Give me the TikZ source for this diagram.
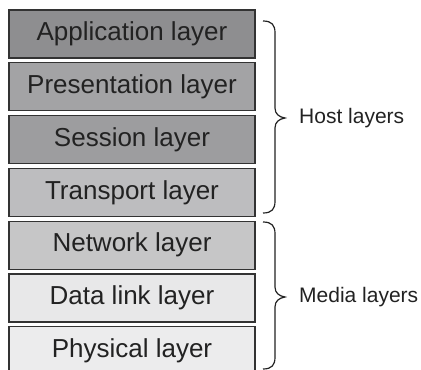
\documentclass[tikz,border=0pt]{standalone}
\usepackage{fontspec}
\setmainfont{Liberation Sans}
\definecolor{edge}{HTML}{333333}
\definecolor{txt}{HTML}{222222}
\definecolor{cA}{HTML}{8E8E90}
\definecolor{cB}{HTML}{A3A3A5}
\definecolor{cC}{HTML}{9D9D9F}
\definecolor{cD}{HTML}{BDBDBF}
\definecolor{cE}{HTML}{C6C6C7}
\definecolor{cF}{HTML}{E8E8E9}
\definecolor{cG}{HTML}{ECECED}
\tikzset{
  layerbox/.style={draw=edge, line width=1.3pt, minimum width=246pt, minimum height=48pt,
    inner sep=0pt, text=txt, font=\fontsize{26}{30}\selectfont},
  grouplabel/.style={anchor=west, inner sep=0pt, text=txt, font=\fontsize{21}{25}\selectfont},
  bracestyle/.style={draw=txt, line width=1.2pt}
}
\begin{document}
\begin{tikzpicture}[x=1pt,y=-1pt]
\useasboundingbox (0,0) rectangle (421,370);
\begin{scope}
\clip (0,0) rectangle (421,370);
\node[layerbox, fill=cA] (app)  at (132,34)    {Application layer};
\node[layerbox, fill=cB] (pres) at (132,86.8)  {Presentation layer};
\node[layerbox, fill=cC] (sess) at (132,139.6) {Session layer};
\node[layerbox, fill=cD] (trans) at (132,192.4) {Transport layer};
\node[layerbox, fill=cE] (net)  at (132,245.2) {Network layer};
\node[layerbox, fill=cF] (dl)   at (132,298)   {Data link layer};
\node[layerbox, fill=cG] (phy)  at (132,350.8) {Physical layer};
\end{scope}
% Host brace
\coordinate (ht) at (263,21);
\coordinate (hb) at (263,213);
\coordinate (htip) at (285,118);
\draw[bracestyle] (ht) .. controls (272,21) and (275,25) .. (275,33) -- (275,108)
  .. controls (275,114) and (279,117) .. (htip)
  .. controls (279,119) and (275,122) .. (275,128) -- (275,201)
  .. controls (275,209) and (272,213) .. (hb);
\node[grouplabel] (host) at (299,118) {Host layers};
% Media brace
\coordinate (mt) at (263,222);
\coordinate (mb) at (263,369);
\coordinate (mtip) at (285,297);
\draw[bracestyle] (mt) .. controls (272,222) and (275,226) .. (275,234) -- (275,287)
  .. controls (275,293) and (279,296) .. (mtip)
  .. controls (279,298) and (275,301) .. (275,307) -- (275,357)
  .. controls (275,365) and (272,369) .. (mb);
\node[grouplabel] (media) at (299,297) {Media layers};
\end{tikzpicture}
\end{document}
